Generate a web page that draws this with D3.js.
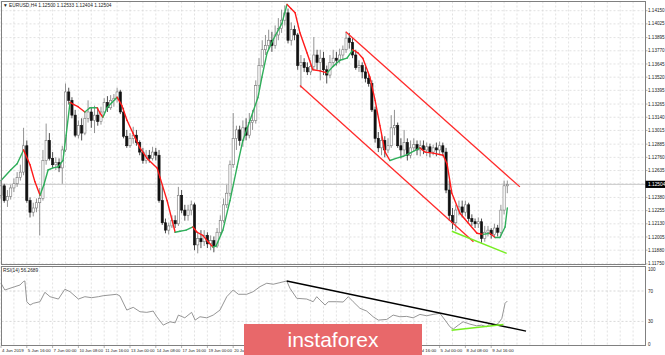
<!DOCTYPE html>
<html>
<head>
<meta charset="utf-8">
<script src="https://cdnjs.cloudflare.com/ajax/libs/d3/7.8.5/d3.min.js"></script>
<style>
  body { margin: 0; background: #fff; }
  svg { display: block; font-family: "Liberation Sans", Arial, sans-serif; }
</style>
</head>
<body>
<svg id="chart"></svg>
<script>
// ---- EURUSD H4 candles, bar 0 = 4 Jun 08:00 ----
const openP = [
  1.1240,1.1249,1.1235,1.1239,1.1247,1.1251,1.1257,1.1262,1.1287,1.1235,
  1.1224,1.1228,1.1233,1.1237,1.1273,1.1292,1.1275,1.1269,1.1271,1.1266,
  1.1283,1.1338,1.1330,1.1316,1.1297,1.1306,1.1299,1.1313,1.1319,1.1311,
  1.1316,1.1310,1.1319,1.1328,1.1323,1.1330,1.1332,1.1338,1.1319,1.1296,
  1.1287,1.1294,1.1297,1.1290,1.1281,1.1273,1.1278,1.1275,1.1281,1.1278,
  1.1235,1.1214,1.1207,1.1211,1.1216,1.1213,1.1240,1.1226,1.1221,1.1226,
  1.1231,1.1193,1.1199,1.1196,1.1202,1.1194,1.1197,1.1192,1.1205,1.1216,
  1.1231,1.1242,1.1269,1.1294,1.1302,1.1292,1.1304,1.1297,1.1309,1.1311,
  1.1344,1.1363,1.1378,1.1382,1.1387,1.1382,1.1392,1.1398,1.1406,1.1413,
  1.1387,1.1397,1.1392,1.1363,1.1366,1.1361,1.1357,1.1362,1.1373,1.1366,
  1.1370,1.1359,1.1354,1.1366,1.1370,1.1368,1.1373,1.1378,1.1389,1.1385,
  1.1373,1.1361,1.1363,1.1357,1.1351,1.1346,1.1321,1.1294,1.1285,1.1292,
  1.1283,1.1287,1.1304,1.1306,1.1287,1.1283,1.1290,1.1278,1.1285,1.1288,
  1.1283,1.1287,1.1283,1.1286,1.1281,1.1285,1.1283,1.1287,1.1281,1.1245,
  1.1221,1.1214,1.1226,1.1229,1.1224,1.1231,1.1218,1.1215,1.1213,1.1215,
  1.1199,1.1205,1.1207,1.1203,1.1209,1.1205,1.1226,1.1249
];
const highP = [
  1.1254,1.1251,1.1245,1.1250,1.1256,1.1262,1.1269,1.1304,1.1292,1.1238,
  1.1233,1.1237,1.1247,1.1283,1.1308,1.1299,1.1281,1.1276,1.1275,1.1287,
  1.1346,1.1342,1.1333,1.1321,1.1311,1.1313,1.1319,1.1330,1.1323,1.1325,
  1.1323,1.1324,1.1332,1.1334,1.1335,1.1336,1.1342,1.1340,1.1323,1.1302,
  1.1299,1.1305,1.1302,1.1292,1.1285,1.1283,1.1283,1.1286,1.1285,1.1283,
  1.1250,1.1218,1.1214,1.1221,1.1221,1.1248,1.1245,1.1231,1.1231,1.1235,
  1.1233,1.1205,1.1207,1.1207,1.1205,1.1202,1.1201,1.1209,1.1221,1.1237,
  1.1250,1.1273,1.1318,1.1306,1.1306,1.1311,1.1313,1.1318,1.1321,1.1349,
  1.1370,1.1387,1.1392,1.1397,1.1395,1.1401,1.1408,1.1416,1.1420,1.1417,
  1.1404,1.1401,1.1394,1.1373,1.1370,1.1366,1.1368,1.1390,1.1378,1.1378,
  1.1376,1.1363,1.1373,1.1378,1.1376,1.1379,1.1382,1.1395,1.1394,1.1389,
  1.1378,1.1368,1.1366,1.1362,1.1355,1.1349,1.1324,1.1300,1.1297,1.1296,
  1.1294,1.1316,1.1321,1.1309,1.1294,1.1302,1.1294,1.1292,1.1294,1.1292,
  1.1292,1.1292,1.1290,1.1289,1.1288,1.1290,1.1291,1.1290,1.1285,1.1254,
  1.1228,1.1231,1.1235,1.1235,1.1235,1.1233,1.1222,1.1218,1.1219,1.1218,
  1.1211,1.1211,1.1209,1.1213,1.1212,1.1231,1.1254,1.1254
];
const lowP = [
  1.1237,1.1233,1.1229,1.1236,1.1243,1.1248,1.1254,1.1259,1.1233,1.1219,
  1.1220,1.1224,1.1202,1.1235,1.1269,1.1273,1.1266,1.1264,1.1262,1.1251,
  1.1281,1.1326,1.1313,1.1295,1.1294,1.1292,1.1297,1.1309,1.1304,1.1299,
  1.1306,1.1307,1.1316,1.1319,1.1321,1.1324,1.1328,1.1317,1.1294,1.1285,
  1.1285,1.1289,1.1287,1.1278,1.1270,1.1270,1.1271,1.1273,1.1273,1.1233,
  1.1212,1.1204,1.1203,1.1209,1.1209,1.1211,1.1223,1.1216,1.1216,1.1221,
  1.1188,1.1185,1.1190,1.1192,1.1190,1.1188,1.1186,1.1190,1.1202,1.1214,
  1.1228,1.1239,1.1266,1.1283,1.1287,1.1286,1.1292,1.1294,1.1302,1.1308,
  1.1340,1.1361,1.1373,1.1378,1.1376,1.1379,1.1387,1.1394,1.1401,1.1384,
  1.1382,1.1387,1.1359,1.1342,1.1357,1.1354,1.1354,1.1359,1.1359,1.1349,
  1.1354,1.1346,1.1351,1.1362,1.1363,1.1365,1.1368,1.1375,1.1379,1.1370,
  1.1359,1.1357,1.1351,1.1347,1.1343,1.1319,1.1290,1.1281,1.1278,1.1276,
  1.1280,1.1285,1.1297,1.1285,1.1275,1.1278,1.1273,1.1275,1.1281,1.1278,
  1.1277,1.1279,1.1277,1.1276,1.1278,1.1277,1.1278,1.1277,1.1242,1.1216,
  1.1208,1.1206,1.1221,1.1219,1.1220,1.1215,1.1211,1.1209,1.1209,1.1195,
  1.1196,1.1201,1.1199,1.1200,1.1201,1.1201,1.1222,1.1242
];
const closeP = [
  1.1249,1.1235,1.1239,1.1247,1.1251,1.1257,1.1262,1.1287,1.1235,1.1224,
  1.1228,1.1233,1.1237,1.1273,1.1292,1.1275,1.1269,1.1271,1.1266,1.1283,
  1.1338,1.1330,1.1316,1.1297,1.1306,1.1299,1.1313,1.1319,1.1311,1.1316,
  1.1310,1.1319,1.1328,1.1323,1.1330,1.1332,1.1338,1.1319,1.1296,1.1287,
  1.1294,1.1297,1.1290,1.1281,1.1273,1.1278,1.1275,1.1281,1.1278,1.1235,
  1.1214,1.1207,1.1211,1.1216,1.1213,1.1240,1.1226,1.1221,1.1226,1.1231,
  1.1193,1.1199,1.1196,1.1202,1.1194,1.1197,1.1192,1.1205,1.1216,1.1231,
  1.1242,1.1269,1.1294,1.1302,1.1292,1.1304,1.1297,1.1309,1.1311,1.1344,
  1.1363,1.1378,1.1382,1.1387,1.1382,1.1392,1.1398,1.1406,1.1413,1.1387,
  1.1397,1.1392,1.1363,1.1366,1.1361,1.1357,1.1362,1.1373,1.1366,1.1370,
  1.1359,1.1354,1.1366,1.1370,1.1368,1.1373,1.1378,1.1389,1.1385,1.1373,
  1.1361,1.1363,1.1357,1.1351,1.1346,1.1321,1.1294,1.1285,1.1292,1.1283,
  1.1287,1.1304,1.1306,1.1287,1.1283,1.1290,1.1278,1.1285,1.1288,1.1283,
  1.1287,1.1283,1.1286,1.1281,1.1285,1.1283,1.1287,1.1281,1.1245,1.1221,
  1.1214,1.1226,1.1229,1.1224,1.1231,1.1218,1.1215,1.1213,1.1215,1.1199,
  1.1205,1.1207,1.1203,1.1209,1.1205,1.1226,1.1249,1.12504
];

// moving average line (bar position, price), colour follows slope
const maX = [0,3,5,7,9,10.5,12.1,13.3,14.6,16.1,17.7,19.2,20.2,21.4,22.6,23.9,26,27.6,29.8,30.7,
  31.6,32.9,34.4,36,37.5,39.1,40.9,43.1,45.3,48.4,49.3,51.5,54,55.5,57.4,59.5,60.8,62.6,64.2,65.7,
  66.7,68.8,71,73.2,75,77.2,79.7,80.9,82.5,84.3,87.1,88.7,89.9,91.2,92.7,94.9,96.7,98.9,101.1,102.9,
  105.1,107.3,109.1,110.7,112.2,114.4,116,117.5,119.1,120.6,122.5,124.7,126.8,129.9,131.5,134,137.1,138.3,139.8,142.3,
  144.8,147.6,149.5,151.6,153.2,154.7,156.3,157];
const maV = [1.1254,1.1264,1.1270,1.1283,1.1269,1.1253,1.1240,1.1250,1.1264,1.1266,1.1267,1.1273,1.1297,1.1328,1.1326,1.1324,1.1319,1.1323,1.1323,1.1318,
  1.1314,1.1323,1.1328,1.1333,1.1325,1.1311,1.1299,1.1285,1.1275,1.1266,1.1257,1.1235,1.1205,1.1206,1.1207,1.1210,1.1205,1.1202,1.1196,1.1191,
  1.1192,1.1207,1.1235,1.1267,1.1292,1.1311,1.1333,1.1352,1.1375,1.1387,1.1403,1.1421,1.1417,1.1413,1.1394,1.1375,1.1359,1.1358,1.1356,1.1362,
  1.1368,1.1370,1.1378,1.1375,1.1370,1.1352,1.1330,1.1306,1.1281,1.1273,1.1275,1.1277,1.1280,1.1285,1.1281,1.1280,1.1278,1.1270,1.1242,1.1223,
  1.1214,1.1204,1.1203,1.1204,1.1200,1.1200,1.1210,1.1228];

// RSI(14) (bar position, value)
const rsiX = [0,1.2,2.8,4.3,5.9,6.9,7.4,8,9,10,12.1,13.6,15.2,17.8,19.8,21.4,24,26,28.1,30.2,
  31.7,33.8,35.9,36.9,39,41,43.1,45.2,47.2,48.3,50.3,52.4,54,55,57,59.1,60.2,61.7,63.8,65.8,
  67.9,70,72,73.6,76.2,78.2,80.3,82.4,84.4,86.5,88.6,89.6,91.7,94.8,96.8,97.9,98.9,100.5,101.5,104.1,
  106.1,107.7,109.2,111.3,113.4,115.4,117,119.6,121.6,123.7,125.8,127.8,129.9,132,134,136.1,137.7,139.2,140.2,141.8,
  143.3,145.4,147.5,149,150.6,151.6,153.2,154.2,155.3,156.3,157];
const rsiV = [80.2,71.3,73.6,75.7,77.9,82.3,83.2,55.9,51.5,53.8,55.9,68.3,62.5,59.4,72.3,69.1,59.4,62.5,61.2,62.5,
  63.8,64.7,65.7,63.4,44.9,48.5,42.7,41.9,43.6,36.1,25.1,29.5,28.1,38.3,34.7,41.9,31.7,36.1,34.7,38.3,
  44.9,62.5,71.3,65.7,65.7,69.1,75.7,80.2,78.9,81,83.2,73.6,60.4,59.4,55.9,62.5,58.1,51.5,55.9,55.9,
  55.5,62.5,55.9,47.2,43.6,36.1,31.7,32.6,38.3,36.1,36.6,34.7,39.2,37.4,39.2,40.6,31.7,22.9,19.8,25.1,
  29.5,26.4,24.2,25.1,22.9,27.3,25.1,27.3,34,53.8,56.8];

// drawn trend lines: [bar, value] pairs
const channelTop = [[106.9, 1.1395], [160.9, 1.1248]];
const channelBottom = [[92.7, 1.1344], [146.5, 1.1196]];
const supportLine = [[139.8, 1.1206], [156.8, 1.1185]];
const rsiDownLine = [[88.6, 83.2], [162.8, 17.2]];
const rsiUpLine = [[139.7, 18.5], [155.8, 26.0]];

// axis labels
const priceTicks = ["1.14150","1.14025","1.13895","1.13770","1.13645","1.13520","1.13395","1.13265","1.13140","1.13015",
  "1.12885","1.12760","1.12635","1.12510","1.12380","1.12255","1.12130","1.12005","1.11880","1.11750"];
const rsiTicks = [100, 70, 30, 0];
const timeBars = [0,8,16,24,32,40,48,56,64,72,80,88,96,104,112,120,128,136,144,152];
const timeLabels = ["4 Jun 2019","5 Jun 16:00","7 Jun 00:00","10 Jun 08:00","11 Jun 16:00","13 Jun 00:00",
  "14 Jun 08:00","17 Jun 16:00","19 Jun 00:00","20 Jun 08:00","21 Jun 16:00","25 Jun 00:00","26 Jun 08:00",
  "27 Jun 16:00","1 Jul 00:00","2 Jul 08:00","3 Jul 16:00","5 Jul 00:00","8 Jul 08:00","9 Jul 16:00"];
const lastPrice = 1.12504;

// watermark box (covers the middle of the time axis)
const badge = { x: 244, y: 324, w: 178, h: 31 };

class PriceChart {
  constructor(_sel) {
    this.sel = _sel;
    this.pane = { left: 1.5, right: 645.5, top: 1.5, bottom: 264.5, rTop: 266.5, rBottom: 345.5 };
    this.initVis();
  }

  initVis() {
    let vis = this;
    vis.svg = d3.select(vis.sel).attr('width', 665).attr('height', 355);

    // one bar every 3.225 px
    vis.x = d3.scaleLinear().domain([0, 200]).range([1, 646]);
    vis.y = d3.scaleLinear().domain([1.11750, 1.14150]).range([263.9, 10.7]);
    vis.yR = d3.scaleLinear().domain([0, 100]).range([344.2, 268.2]);

    vis.renderVis();
  }

  renderVis() {
    let vis = this;
    const p = vis.pane;
    const grid = vis.svg.append('g')
      .attr('stroke', '#cfcfcf').attr('stroke-width', 0.6).attr('stroke-dasharray', '2,2');

    // vertical grid every 4 bars, both panes
    const vx = d3.range(0, 200, 4).map(vis.x).filter(v => v < p.right - 1);
    grid.selectAll('.vg').data(vx).join('line')
      .attr('x1', d => d).attr('x2', d => d).attr('y1', p.top).attr('y2', p.bottom);
    grid.selectAll('.vgr').data(vx).join('line')
      .attr('x1', d => d).attr('x2', d => d).attr('y1', p.rTop).attr('y2', p.rBottom);
    grid.selectAll('.hg').data(priceTicks).join('line')
      .attr('x1', p.left).attr('x2', p.right)
      .attr('y1', d => vis.y(+d)).attr('y2', d => vis.y(+d));
    grid.selectAll('.hgr').data([70, 30]).join('line')
      .attr('stroke', '#bdbdbd')
      .attr('x1', p.left).attr('x2', p.right)
      .attr('y1', d => vis.yR(d)).attr('y2', d => vis.yR(d));

    // last price line
    vis.svg.append('line')
      .attr('x1', p.left).attr('x2', p.right)
      .attr('y1', vis.y(lastPrice)).attr('y2', vis.y(lastPrice))
      .attr('stroke', '#b0b0b0').attr('stroke-width', 0.7);

    // --- candles ---
    const bars = closeP.map((c, i) => ({ i, o: openP[i], h: highP[i], l: lowP[i], c }));
    const cg = vis.svg.append('g');
    cg.selectAll('.wick').data(bars).join('line')
      .attr('x1', d => vis.x(d.i)).attr('x2', d => vis.x(d.i))
      .attr('y1', d => vis.y(d.h)).attr('y2', d => vis.y(d.l))
      .attr('stroke', d => d.c >= d.o ? '#777' : '#222')
      .attr('stroke-width', 0.8);
    cg.selectAll('.body').data(bars).join('rect')
      .attr('x', d => vis.x(d.i) - 1.1)
      .attr('width', 2.2)
      .attr('y', d => vis.y(Math.max(d.o, d.c)))
      .attr('height', d => Math.max(0.8, vis.y(Math.min(d.o, d.c)) - vis.y(Math.max(d.o, d.c))))
      .attr('fill', d => d.c >= d.o ? '#fff' : '#111')
      .attr('stroke', d => d.c >= d.o ? '#777' : '#111')
      .attr('stroke-width', 0.6);

    // --- coloured moving average ---
    const segs = d3.range(1, maX.length).map(k => ({ a: k - 1, b: k, up: maV[k] >= maV[k - 1] }));
    vis.svg.append('g').selectAll('line').data(segs).join('line')
      .attr('x1', d => vis.x(maX[d.a])).attr('y1', d => vis.y(maV[d.a]))
      .attr('x2', d => vis.x(maX[d.b])).attr('y2', d => vis.y(maV[d.b]))
      .attr('stroke', d => d.up ? '#2fae5a' : '#ff1a1a')
      .attr('stroke-width', 1.4).attr('stroke-linecap', 'round');

    // --- channel & support ---
    const seg = (pts, yScale, color, w) => vis.svg.append('line')
      .attr('x1', vis.x(pts[0][0])).attr('y1', yScale(pts[0][1]))
      .attr('x2', vis.x(pts[1][0])).attr('y2', yScale(pts[1][1]))
      .attr('stroke', color).attr('stroke-width', w);
    seg(channelTop, vis.y, '#ff2a2a', 1.3);
    seg(channelBottom, vis.y, '#ff2a2a', 1.3);
    seg(supportLine, vis.y, '#77ee22', 1.5);

    // --- RSI ---
    const rsiLine = d3.line().x(d => vis.x(d[0])).y(d => vis.yR(d[1]));
    vis.svg.append('path')
      .attr('d', rsiLine(rsiX.map((v, i) => [v, rsiV[i]])))
      .attr('fill', 'none').attr('stroke', '#8a8a8a').attr('stroke-width', 0.9);
    seg(rsiDownLine, vis.yR, '#000', 1.5);
    seg(rsiUpLine, vis.yR, '#77ee22', 1.5);

    // --- frames ---
    const frame = vis.svg.append('g').attr('fill', 'none').attr('stroke', '#808080').attr('stroke-width', 1);
    frame.append('rect').attr('x', p.left).attr('y', p.top)
      .attr('width', p.right - p.left).attr('height', p.bottom - p.top);
    frame.append('rect').attr('x', p.left).attr('y', p.rTop)
      .attr('width', p.right - p.left).attr('height', p.rBottom - p.rTop);

    // --- price axis ---
    const ax = vis.svg.append('g').attr('font-size', 4.6).attr('fill', '#222');
    ax.selectAll('.pt').data(priceTicks.filter(d => Math.abs(+d - lastPrice) > 0.0005)).join('text')
      .attr('x', 648).attr('y', d => Math.min(vis.y(+d) + 1.6, 265)).text(d => d);
    ax.selectAll('.ptk').data(priceTicks).join('line')
      .attr('x1', p.right).attr('x2', p.right + 2)
      .attr('y1', d => vis.y(+d)).attr('y2', d => vis.y(+d))
      .attr('stroke', '#808080').attr('stroke-width', 0.6);
    ax.selectAll('.rt').data(rsiTicks).join('text')
      .attr('x', 648).attr('y', d => Math.max(vis.yR(d) + 1.6, 271)).text(d => d);

    // last price tag
    const ly = vis.y(lastPrice);
    vis.svg.append('rect').attr('x', p.right).attr('y', ly - 3.6)
      .attr('width', 665 - p.right).attr('height', 7.2).attr('fill', '#000');
    vis.svg.append('text').attr('x', 648).attr('y', ly + 1.7)
      .attr('font-size', 4.8).attr('fill', '#fff').text(lastPrice.toFixed(5));

    // --- time axis (labels entirely under the badge are not visible) ---
    const shown = timeBars.map((b, i) => ({ b, t: timeLabels[i] }))
      .filter(d => vis.x(d.b) < badge.x - 8 || vis.x(d.b) > badge.x + badge.w - 18);
    const tg = vis.svg.append('g').attr('font-size', 4.4).attr('fill', '#222');
    tg.selectAll('text').data(shown).join('text')
      .attr('x', d => vis.x(d.b) + 1).attr('y', 351.5).text(d => d.t)
      .each(function () {
        if (this.getComputedTextLength() > 23.5) d3.select(this).attr('textLength', 23.5).attr('lengthAdjust', 'spacingAndGlyphs');
      });
    tg.selectAll('line').data(timeBars).join('line')
      .attr('x1', d => vis.x(d)).attr('x2', d => vis.x(d))
      .attr('y1', p.rBottom).attr('y2', p.rBottom + 2.5)
      .attr('stroke', '#808080').attr('stroke-width', 0.6);

    // --- header texts ---
    vis.svg.append('text').attr('x', 3).attr('y', 7).attr('font-size', 4.8).attr('fill', '#222')
      .text('\u25BC EURUSD,H4  1.12500 1.12533 1.12404 1.12504');
    vis.svg.append('text').attr('x', 3).attr('y', 272).attr('font-size', 4.8).attr('fill', '#222')
      .text('RSI(14) 56.2689');

    // --- watermark ---
    vis.svg.append('rect').attr('x', badge.x).attr('y', badge.y).attr('width', badge.w).attr('height', badge.h)
      .attr('fill', '#e8686a');
    vis.svg.append('text').attr('x', badge.x + badge.w / 2).attr('y', 347).attr('text-anchor', 'middle')
      .attr('font-size', 21).attr('fill', '#fff').text('instaforex');
  }
}

new PriceChart('#chart');
</script>
</body>
</html>
